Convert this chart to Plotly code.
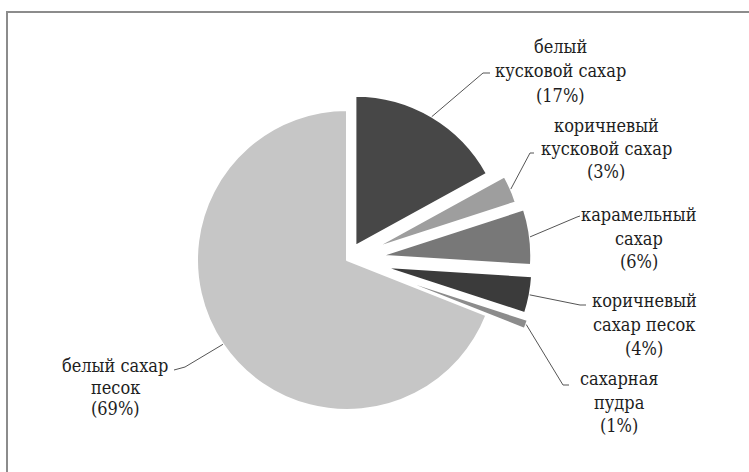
import math
import plotly.graph_objects as go

# ---- data ----
labels = ["белый кусковой сахар", "коричневый кусковой сахар", "карамельный сахар",
          "коричневый сахар песок", "сахарная пудра", "белый сахар песок"]
label_lines = [["белый", "кусковой сахар"], ["коричневый", "кусковой сахар"],
               ["карамельный", "сахар"], ["коричневый", "сахар песок"],
               ["сахарная", "пудра"], ["белый сахар", "песок"]]
values = [17, 3, 6, 4, 1, 69]

# ---- style / layout ----
pulls = [0.11, 0.19, 0.23, 0.24, 0.27, 0.0]
colors = ["#474747", "#9e9e9e", "#787878", "#3b3b3b", "#8c8c8c", "#c6c6c6"]
W, H = 749, 472
CX, CY, R = 347, 260, 150          # pie centre / radius in pixels
maxpull = max(pulls)
half = R * (1 + maxpull)

# label centres (px), line spacing, and leader elbows / ends (px)
label_pos = [(560, 71), (606, 149), (639, 238), (644, 324), (619, 402), (115, 387)]
line_gap = [24, 23, 23.5, 24, 23.5, 21.5]
elbows = [(483, 73), (530, 153), (577, 217), (580, 305), (563, 385), (185, 367)]
ends = [(490, 73), (534, 153), (580, 216), (586, 305), (569, 385), (174, 370)]
FONT = "DejaVu Serif Condensed, DejaVu Serif, serif"
FSIZE = 18


def px(x, y):
    return x / W, 1 - y / H


fig = go.Figure(go.Pie(
    labels=labels, values=values, pull=pulls, sort=False,
    direction="clockwise", rotation=0, textinfo="none",
    marker=dict(colors=colors, line=dict(color="white", width=2)),
    domain=dict(x=[(CX - half) / W, (CX + half) / W],
                y=[1 - (CY + half) / H, 1 - (CY - half) / H]),
    showlegend=False, hoverinfo="label+percent",
))

total = sum(values)
cum = 0
shapes = []
annotations = []
for i, v in enumerate(values):
    mid = (cum + v / 2) / total * 2 * math.pi
    cum += v
    rr = R * (1 + pulls[i])
    sx = CX + rr * math.sin(mid)
    sy = CY - rr * math.cos(mid)
    p0 = px(sx, sy)
    p1 = px(*elbows[i])
    p2 = px(*ends[i])
    shapes.append(dict(type="path", xref="paper", yref="paper",
                       path=f"M {p0[0]},{p0[1]} L {p1[0]},{p1[1]} L {p2[0]},{p2[1]}",
                       line=dict(color="#555555", width=1)))
    pct = round(v / total * 100)
    lines = label_lines[i] + [f"({pct}%)"]
    cxl, cyl = label_pos[i]
    for k, line in enumerate(lines):
        lx, ly = px(cxl, cyl + (k - (len(lines) - 1) / 2) * line_gap[i])
        annotations.append(dict(x=lx, y=ly, xref="paper", yref="paper", text=line,
                                showarrow=False, xanchor="center", yanchor="middle",
                                align="center",
                                font=dict(family=FONT, size=FSIZE, color="#1e1e1e")))

# outer frame
shapes.append(dict(type="rect", xref="paper", yref="paper",
                   x0=7 / W, x1=1.05, y0=-0.05, y1=1 - 12 / H,
                   line=dict(color="#8c8c8c", width=2), layer="below"))

fig.update_layout(width=W, height=H, margin=dict(l=0, r=0, t=0, b=0),
                  paper_bgcolor="white", plot_bgcolor="white",
                  font=dict(family=FONT, size=FSIZE, color="#1e1e1e"),
                  shapes=shapes, annotations=annotations)
fig.write_html("out.html", config={"displayModeBar": False},
               post_script="document.body.style.margin='0';")
